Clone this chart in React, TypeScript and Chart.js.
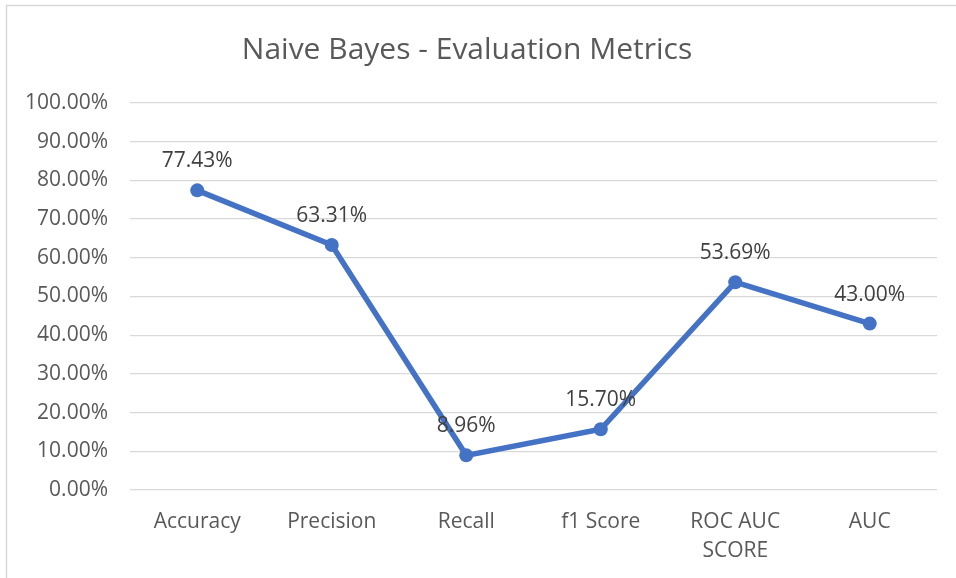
import React, { useEffect, useRef } from "react";
import { Chart, registerables } from "chart.js";

Chart.register(...registerables);

const title = "Naive Bayes - Evaluation Metrics";
const categories: (string | string[])[] = ["Accuracy", "Precision", "Recall", "f1 Score", ["ROC AUC", "SCORE"], "AUC"];
const values = [0.7743, 0.6331, 0.0896, 0.157, 0.5369, 0.43];
const valueLabels = ["77.43%", "63.31%", "8.96%", "15.70%", "53.69%", "43.00%"];

const FONT = "'Open Sans', 'Noto Sans', sans-serif";

const decorPlugin = {
  id: "decor",
  beforeDraw(chart: any) {
    const ctx = chart.ctx;
    ctx.save();
    ctx.fillStyle = "#ffffff";
    ctx.fillRect(0, 0, chart.width, chart.height);
    ctx.strokeStyle = "#d9d9d9";
    ctx.lineWidth = 1.5;
    ctx.beginPath();
    ctx.moveTo(6.5, chart.height);
    ctx.lineTo(6.5, 5.5);
    ctx.lineTo(chart.width, 5.5);
    ctx.stroke();
    ctx.fillStyle = "#595959";
    ctx.font = `30px ${FONT}`;
    ctx.textAlign = "center";
    ctx.textBaseline = "alphabetic";
    ctx.fillText(title, 467, 59);
    ctx.restore();
  },
  afterDatasetsDraw(chart: any) {
    const ctx = chart.ctx;
    const meta = chart.getDatasetMeta(0);
    ctx.save();
    ctx.fillStyle = "#404040";
    ctx.font = `21px ${FONT}`;
    ctx.textAlign = "center";
    ctx.textBaseline = "alphabetic";
    meta.data.forEach((pt: any, i: number) => {
      ctx.fillText(valueLabels[i], pt.x, pt.y - 23);
    });
    ctx.restore();
  },
};

export default function App() {
  const ref = useRef<HTMLCanvasElement>(null);
  useEffect(() => {
    if (!ref.current) return;
    const chart = new Chart(ref.current, {
      type: "line",
      data: {
        labels: categories,
        datasets: [
          {
            data: values,
            borderColor: "#4472C4",
            backgroundColor: "#4472C4",
            borderWidth: 5.5,
            pointRadius: 7,
            pointBorderWidth: 0,
            pointBackgroundColor: "#4472C4",
            tension: 0,
            fill: false,
          },
        ],
      },
      options: {
        animation: false,
        responsive: true,
        maintainAspectRatio: false,
        layout: { padding: { top: 103, right: 19, left: 0, bottom: 0 } },
        plugins: {
          legend: { display: false },
          title: { display: false },
          tooltip: { enabled: false },
        },
        scales: {
          x: {
            offset: true,
            grid: { display: false, drawTicks: false },
            border: { display: false },
            ticks: {
              color: "#595959",
              font: { family: FONT, size: 21, lineHeight: 1.35 },
              padding: 18,
              maxRotation: 0,
              autoSkip: false,
            },
            afterFit: (s: any) => {
              s.height = 88;
            },
          },
          y: {
            min: 0,
            max: 1,
            grid: { color: "#d9d9d9", lineWidth: 1.3, drawTicks: false },
            border: { display: false },
            ticks: {
              stepSize: 0.1,
              color: "#595959",
              font: { family: FONT, size: 21 },
              padding: 22,
              callback: (v: any) => (Number(v) * 100).toFixed(2) + "%",
            },
            afterFit: (s: any) => {
              s.width = 130;
            },
          },
        },
      },
      plugins: [decorPlugin],
    });
    return () => chart.destroy();
  }, []);
  return (
    <div style={{ position: "absolute", left: 0, top: 0, width: 956, height: 578 }}>
      <canvas ref={ref} />
    </div>
  );
}
